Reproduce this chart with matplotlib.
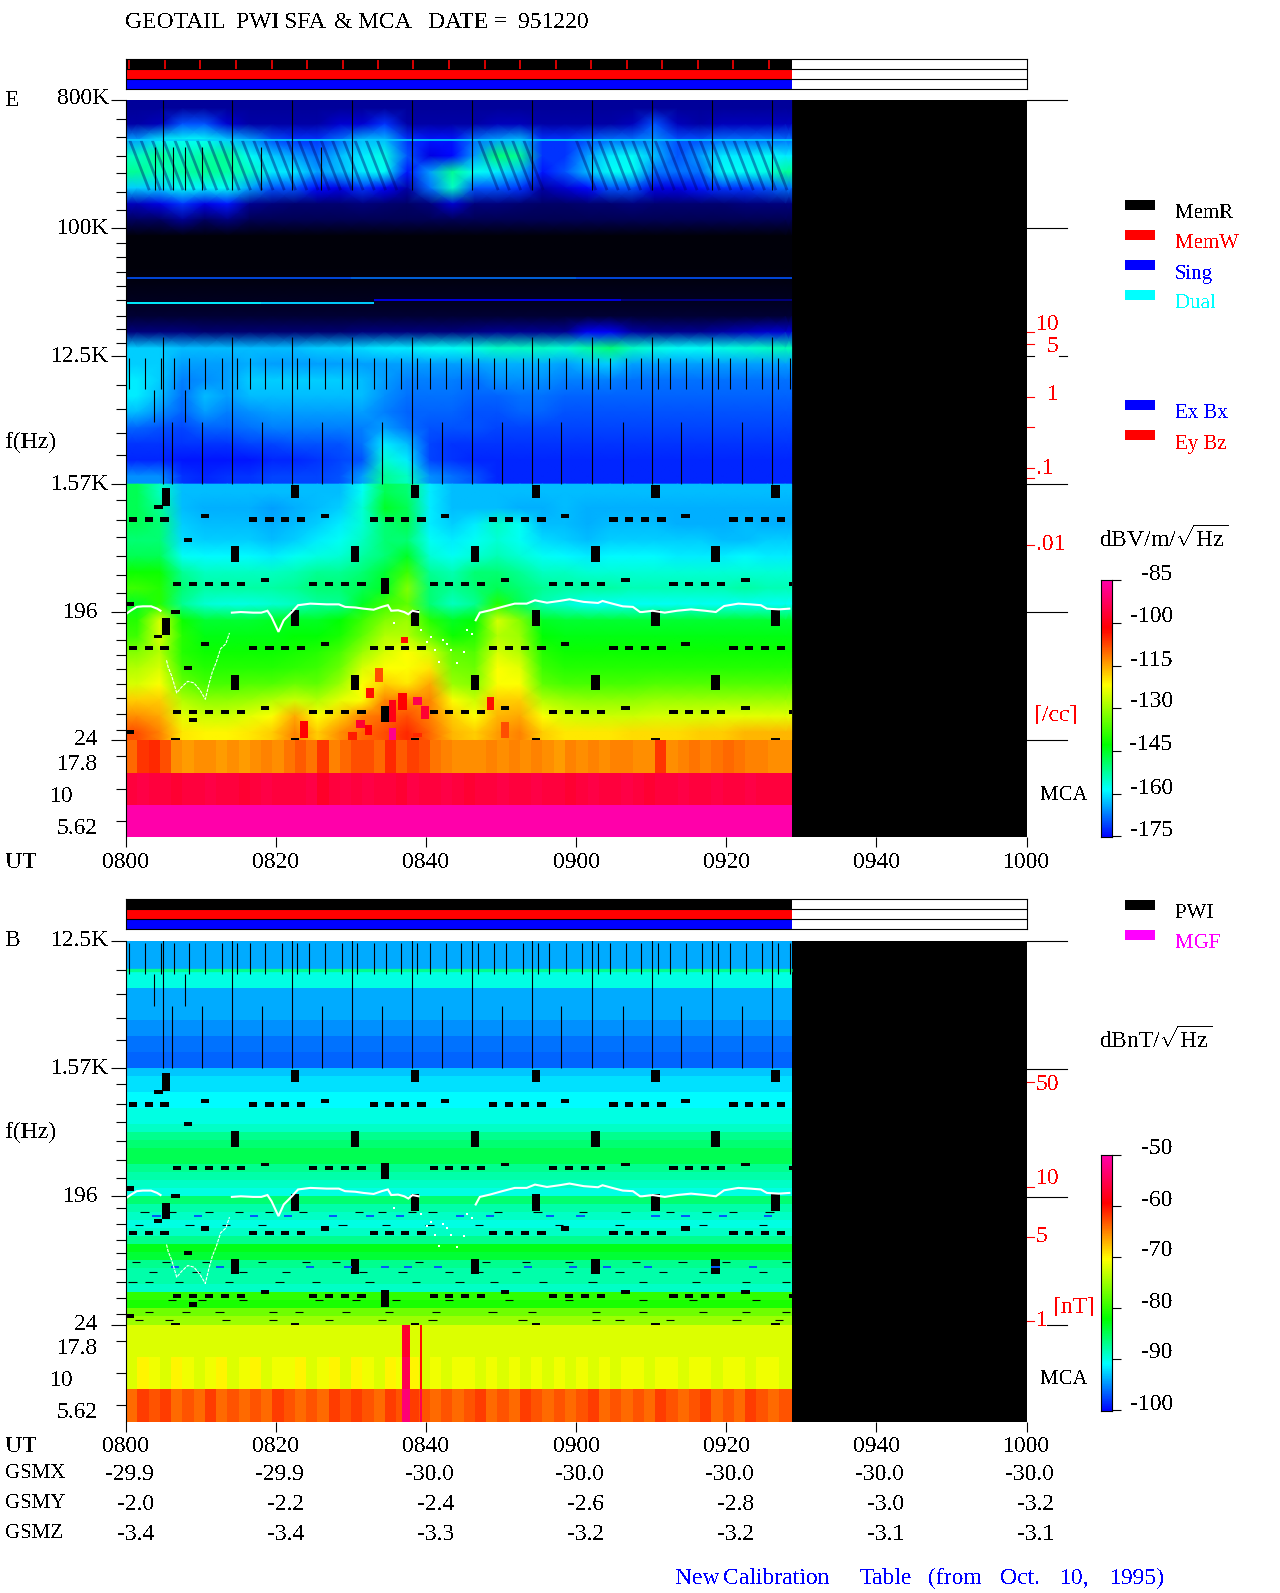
import numpy as np
import matplotlib.pyplot as plt
from matplotlib.colors import LinearSegmentedColormap, Normalize
from matplotlib.lines import Line2D
from matplotlib.patches import Rectangle
from matplotlib.ticker import NullFormatter

plt.rcParams['font.family'] = ['Liberation Serif', 'DejaVu Serif']
plt.rcParams['font.size'] = 17
plt.rcParams['text.antialiased'] = False
plt.rcParams['mathtext.fontset'] = 'custom'
plt.rcParams['mathtext.rm'] = 'Liberation Serif'
plt.rcParams['mathtext.default'] = 'regular'

W, H = 1280, 1593
T_END = 88.7

# time bins of the tables, minutes after 0800
T_EDGES = [0, 3, 6, 9, 12, 15, 18, 21, 24, 27, 30, 33, 36, 39, 42, 45, 48, 51, 54, 57,
           60, 63, 66, 69, 72, 75, 78, 81, 84, 87, T_END]
T_FINE = list(np.arange(0, 88, 1.5)) + [T_END]

MAJOR_F = [800e3, 100e3, 12.5e3, 1562.5, 195.3, 24.41]
MINOR_F = [587e3, 436e3, 322e3, 245e3, 180e3, 135e3, 78.8e3, 62e3, 49e3, 39e3, 31e3, 23.9e3,
           19.3e3, 15.4e3, 7.8e3, 5.26e3, 3.56e3, 2.5e3, 1205, 880, 658, 485, 356, 265,
           163, 125, 97, 78, 60.6, 48.9, 37.7, 29]

# E field, 800K to 1.57K, dB, top row first
E_HIGH = [
    [-185] * 30,
    [-184, -182, -170, -170, -180, -184, -184, -184, -184, -180, -180, -172, -184, -184, -184, -184, -182, -182, -184, -184, -184, -184, -182, -170, -182, -184, -182, -182, -182, -182],
    [-165, -160, -158, -158, -162, -165, -170, -172, -172, -168, -163, -163, -172, -174, -174, -168, -165, -163, -172, -172, -170, -168, -168, -166, -170, -170, -168, -168, -168, -168],
    [-155, -152, -155, -153, -152, -158, -162, -165, -168, -163, -160, -157, -170, -178, -175, -165, -150, -152, -172, -172, -165, -160, -158, -163, -170, -165, -160, -160, -158, -160],
    [-152, -155, -153, -152, -153, -155, -160, -160, -165, -163, -160, -158, -174, -165, -152, -158, -160, -163, -174, -170, -163, -158, -158, -168, -168, -168, -158, -158, -157, -152],
    [-162, -162, -158, -160, -158, -165, -170, -170, -175, -178, -172, -176, -184, -168, -155, -170, -170, -172, -184, -180, -175, -170, -170, -178, -178, -174, -172, -172, -170, -168],
    [-182, -178, -172, -178, -174, -186, -188, -189, -189, -189, -188, -189, -190, -188, -180, -188, -188, -189, -190, -190, -189, -189, -188, -189, -189, -189, -189, -188, -188, -188],
    [-191, -191, -186, -191, -188, -192, -192, -192, -192, -192, -192, -192, -192, -192, -192, -192, -192, -192, -192, -192, -192, -192, -192, -192, -192, -192, -192, -192, -192, -192],
    [-199] * 30,
    [-199] * 30,
    [-199] * 30,
    [-198] * 30,
    [-197] * 30,
    [-195] * 30,
    [-188, -188, -188, -189, -189, -189, -189, -189, -189, -189, -188, -188, -188, -188, -188, -187, -186, -186, -186, -186, -176, -176, -184, -186, -186, -186, -184, -182, -180, -180],
    [-162, -162, -163, -163, -163, -163, -163, -163, -162, -162, -161, -160, -160, -158, -158, -157, -155, -155, -155, -156, -153, -150, -155, -157, -158, -158, -157, -156, -155, -154],
    [-162, -162, -165, -165, -165, -164, -165, -165, -165, -165, -165, -165, -165, -165, -165, -165, -164, -164, -164, -165, -163, -162, -165, -165, -165, -165, -165, -165, -165, -165],
    [-160, -162, -167, -166, -165, -162, -162, -162, -162, -162, -163, -165, -167, -167, -167, -168, -166, -166, -166, -167, -167, -167, -168, -168, -168, -168, -168, -168, -168, -168],
    [-160, -163, -168, -163, -165, -163, -163, -163, -163, -163, -163, -166, -168, -168, -168, -169, -169, -168, -168, -169, -169, -169, -169, -169, -169, -169, -169, -169, -169, -169],
    [-163, -166, -169, -165, -167, -166, -165, -165, -165, -165, -165, -167, -169, -169, -169, -170, -170, -169, -169, -170, -170, -170, -170, -170, -170, -170, -170, -170, -170, -170],
    [-169, -170, -171, -169, -169, -168, -167, -167, -167, -167, -167, -165, -168, -170, -170, -170, -171, -171, -171, -171, -171, -171, -171, -171, -171, -171, -171, -171, -171, -171],
    [-172, -172, -172, -172, -172, -171, -171, -170, -170, -170, -168, -160, -163, -171, -172, -172, -172, -172, -172, -172, -172, -172, -172, -172, -172, -172, -172, -172, -172, -172],
    [-173, -173, -174, -174, -174, -174, -173, -173, -172, -171, -170, -156, -160, -171, -172, -173, -173, -173, -173, -173, -173, -173, -173, -173, -173, -173, -173, -173, -173, -173],
    [-166, -166, -172, -173, -172, -172, -171, -171, -171, -170, -165, -152, -155, -166, -168, -170, -173, -173, -173, -173, -173, -173, -173, -173, -173, -173, -173, -173, -173, -173],
]

# E field, 1.57K to 24
E_LOW = [
    [-148, -155, -163, -163, -163, -163, -163, -163, -163, -163, -158, -148, -150, -160, -163, -163, -163, -163, -163, -163, -163, -163, -163, -163, -163, -163, -163, -163, -163, -163],
    [-148, -152, -163, -164, -164, -164, -165, -164, -163, -162, -156, -145, -148, -160, -163, -163, -163, -164, -164, -163, -164, -164, -164, -164, -164, -164, -164, -164, -164, -164],
    [-148, -150, -162, -163, -163, -163, -164, -163, -162, -160, -156, -150, -148, -160, -162, -160, -155, -158, -163, -163, -164, -163, -163, -163, -164, -164, -164, -163, -164, -164],
    [-150, -150, -161, -162, -162, -162, -163, -162, -160, -158, -155, -150, -150, -158, -160, -158, -156, -158, -161, -162, -163, -162, -162, -162, -162, -162, -163, -163, -162, -162],
    [-148, -148, -158, -159, -159, -159, -160, -158, -157, -156, -153, -150, -145, -156, -158, -156, -154, -156, -158, -159, -160, -159, -159, -159, -160, -160, -160, -159, -160, -160],
    [-142, -142, -152, -155, -155, -155, -155, -154, -152, -152, -150, -146, -138, -152, -154, -150, -150, -152, -155, -155, -156, -156, -156, -156, -156, -156, -156, -156, -156, -156],
    [-138, -140, -150, -153, -153, -153, -153, -152, -150, -150, -148, -145, -132, -150, -152, -150, -148, -150, -152, -153, -153, -153, -154, -154, -154, -154, -154, -153, -154, -154],
    [-145, -140, -152, -156, -157, -157, -156, -155, -153, -152, -145, -138, -135, -150, -155, -152, -140, -148, -154, -156, -158, -158, -158, -158, -158, -158, -158, -158, -158, -158],
    [-140, -125, -142, -146, -146, -146, -145, -145, -145, -143, -138, -132, -130, -140, -145, -143, -125, -132, -145, -146, -146, -146, -146, -146, -146, -146, -146, -146, -146, -146],
    [-138, -125, -140, -144, -144, -144, -144, -143, -143, -141, -135, -128, -128, -135, -142, -140, -128, -130, -143, -144, -144, -144, -144, -144, -144, -144, -144, -144, -144, -144],
    [-132, -128, -140, -142, -142, -142, -142, -141, -140, -137, -130, -125, -122, -125, -135, -136, -125, -128, -140, -142, -142, -142, -142, -142, -142, -142, -142, -142, -142, -142],
    [-128, -125, -138, -140, -140, -140, -140, -139, -138, -134, -125, -122, -122, -120, -133, -134, -122, -124, -138, -140, -140, -140, -140, -140, -140, -140, -140, -140, -140, -140],
    [-125, -122, -134, -137, -137, -136, -136, -134, -135, -130, -122, -118, -120, -115, -130, -132, -122, -122, -135, -137, -137, -137, -137, -136, -136, -136, -136, -136, -136, -136],
    [-118, -118, -128, -131, -131, -130, -128, -126, -128, -124, -122, -112, -112, -112, -122, -126, -118, -118, -128, -130, -131, -131, -131, -130, -130, -130, -130, -130, -130, -130],
    [-113, -115, -124, -126, -126, -124, -122, -115, -122, -118, -112, -110, -108, -112, -118, -122, -116, -115, -122, -125, -126, -126, -126, -125, -125, -125, -124, -124, -124, -124],
    [-108, -112, -120, -121, -121, -120, -118, -112, -118, -113, -110, -108, -105, -110, -116, -118, -114, -112, -118, -120, -120, -120, -119, -119, -119, -118, -118, -116, -116, -116],
]

# red patches in the low E band: start, end, upper Hz, lower Hz, dB
HOT_T0 = [23.2, 29.6, 30.7, 31.8, 32.0, 33.2, 35.0, 35.0, 36.3, 38.3, 39.3, 36.7, 48.1, 50.0, 38.3]
HOT_T1 = [24.2, 30.8, 31.8, 32.8, 33.0, 34.3, 36.0, 36.0, 37.4, 39.4, 40.4, 37.6, 49.0, 51.0, 39.4]
HOT_FH = [33.3, 27.8, 33.8, 31.1, 56.8, 78.6, 46.8, 29.6, 52.4, 49.1, 42.5, 130, 49.1, 32.7, 27.4]
HOT_FL = [25.2, 24.4, 29.6, 26.5, 48.3, 62.6, 32.7, 24.4, 39.8, 43.1, 34.4, 118, 39.8, 25.2, 25.7]
HOT_DB = [-102, -104, -97, -102, -103, -108, -100, -88, -102, -94, -97, -103, -103, -108, -105]

# MCA bands at 1.5 minute steps
E_MCA_TOP = [-110, -106, -105, -108, -113, -114, -113, -113, -114, -113, -114, -113, -112, -113, -111, -109, -111, -106, -112, -110,
             -108, -108, -110, -105, -109, -107, -108, -111, -112, -113, -113, -113, -112, -113, -112, -113, -112, -113, -114, -112,
             -113, -112, -113, -112, -112, -113, -113, -106, -113, -112, -111, -112, -111, -110, -111, -112, -112, -113, -113]
E_MCA_MID = [-96, -95, -96, -96, -97, -96, -96, -95, -96, -96, -97, -96, -95, -96, -96, -96, -95, -98, -96, -95,
             -96, -95, -96, -96, -97, -95, -96, -96, -95, -96, -97, -96, -96, -95, -96, -96, -95, -96, -96, -97,
             -96, -95, -96, -96, -95, -96, -97, -96, -96, -95, -96, -96, -95, -96, -96, -95, -96, -96, -96]
E_MCA_LOW = [-85] * 30

# B field, dB; the top part hardly changes with time
B_HIGH = [-94, -94, -90, -94, -94, -95, -96, -96.5]
B_LOW = [-93, -92, -92, -91, -91, -90, -90, -89, -87, -86, -85, -85, -87, -88, -89, -90,
         -86, -88, -89, -90, -89, -87, -83, -84, -87, -88, -88, -89, -80, -81, -77, -75]
B_MCA_TOP = [-72] * 30
B_MCA_MID = [-72, -70, -71, -72, -70, -71, -72, -71, -70, -72, -71, -70, -72, -71, -71, -70, -72, -71, -70, -72,
             -70, -71, -72, -70, -71, -70, -72, -71, -72, -71, -71, -72, -71, -72, -71, -72, -71, -72, -71, -72,
             -71, -72, -71, -72, -71, -71, -72, -71, -71, -72, -71, -71, -72, -71, -71, -72, -71, -71, -72]
B_MCA_LOW = [-64, -62, -63, -62, -64, -63, -64, -62, -64, -63, -64, -63, -64, -62, -63, -64, -63, -64, -62, -63,
             -62, -63, -64, -62, -63, -62, -63, -64, -63, -64, -63, -62, -64, -63, -64, -62, -63, -64, -63, -64,
             -63, -62, -64, -63, -64, -63, -64, -62, -63, -64, -63, -62, -64, -63, -64, -62, -63, -64, -63]
B_SPIKE_T0 = [36.8, 39.15]
B_SPIKE_T1 = [37.8, 39.45]
B_SPIKE_DB = [[-57, -60], [-55, -60], [-53, -55]]

# thin streaks in the low B band, Hz and start minute
STREAK_F = [151.7, 122.9, 67.4, 57.3, 48.7, 36.4, 29.9, 26.3]
STREAK_T = [
    [1.9, 5.6, 10.5, 14.5, 18.5, 23, 30.5, 33.6, 37.6, 40.3, 49, 54.3, 60.3, 66, 71.9, 76.8, 80.3, 85.2],
    [1.2, 7.9, 12.8, 17.6, 28.3, 34.1, 39.9, 46.5, 57.2, 65.2, 76.3, 84.3],
    [.8, 4.8, 10.1, 17.6, 23.4, 27.4, 38.5, 47.4, 52.8, 58.5, 67.4, 73.6, 79.4, 87.4],
    [3, 8.8, 15, 20.8, 31, 36.3, 42.5, 46.5, 51.4, 58.5, 65.2, 71, 76.3, 84.3],
    [.3, 2.5, 6.5, 13.2, 19.9, 24.8, 31.9, 38.1, 43.9, 48.5, 55, 61.6, 68.3, 75.4, 82.1, 87.4],
    [5.6, 9.6, 15, 25.2, 30.1, 35.4, 42.5, 50.5, 58.5, 68.3, 75, 83.4],
    [2.5, 7.4, 11.9, 19, 22.5, 28.8, 34.5, 40.8, 48.3, 53.6, 62.1, 68.3, 76.3, 82.1, 87.4],
    [1.2, 5.2, 12.8, 19, 26.5, 33.6, 40.3, 52.3, 62.1, 65.2, 71.9, 80.8, 86.5],
]
BLUE_F = [142, 62]
BLUE_T = [
    [3.5, 9, 16.5, 21, 27, 32, 36, 44, 48, 56, 60, 70, 74, 79, 85],
    [6, 12, 24, 29, 34, 37, 41, 53, 59, 63.5, 69, 78, 83],
]

# plasma line, minutes and Hz
PF1_T = [.07, .6, 1.43, 2.25, 3.34, 4.15, 4.6]
PF1_F = [191, 200, 213, 215, 215, 207, 200]
PF2_T = [5.4, 5.62, 6.06, 6.33, 6.76, 7.42, 8.23, 9.05, 9.87, 10.57, 11.06, 11.5, 12.04, 12.6, 13.3, 13.79]
PF2_F = [89.5, 80, 70, 63, 52.6, 58, 63.6, 62, 55, 47.5, 61, 74, 87, 108, 117, 139.5]
PF3_T = [14.11, 15.3, 16.94, 18.03, 18.85, 19.39, 20.32, 21.02, 22.11, 22.93, 24.56, 26.74, 28.37, 29.19, 30.55, 31.64, 33, 34.08, 34.9, 35.34, 36.26, 37.08, 37.62, 38.17, 38.98]
PF3_F = [194, 196, 194, 194, 200, 181, 142, 171.5, 196, 219, 224.6, 222, 222, 213, 211, 207, 203.5, 213, 219, 200, 201.5, 196, 189, 200, 196]
PF4_T = [35.7, 39.25, 40.07, 40.6, 41.2, 41.7, 42.25, 42.8, 43.3, 44.15, 45, 45.5, 46.06]
PF4_F = [163, 146, 120, 130, 105, 87, 124, 117, 105, 86, 102, 146, 138]
PF5_T = [46.6, 47.15, 48.5, 50.14, 51.8, 53.4, 54.5, 56.1, 57.76, 59.1, 61, 62.9, 63.5, 64.8, 66.2, 67.55, 68.5, 68.8, 70.2, 71.8, 73.4, 75.3, 77.2, 78.6, 79.7, 81.6, 83.2, 84.6, 85.4, 87, 88.4]
PF5_F = [171.5, 194, 201.5, 213, 224.6, 224.6, 237, 228, 234.5, 241, 231, 227, 234.5, 224.6, 215, 213, 196, 196, 200, 194, 200, 204.6, 200, 196, 216, 224.6, 222, 219, 207, 204.6, 207]

# black data gaps, start minute
GAP_WIDTH = 1.1
DASH_A_T = [.34, 2.52, 4.59, 16.4, 18.57, 20.64, 22.82, 32.45, 34.57, 36.64, 38.82, 48.4, 50.52, 52.64, 54.82, 64.4, 66.52, 68.64, 70.8, 80.4, 82.5, 84.64, 86.76]
DASH_B_T = [6.27, 8.4, 10.52, 12.64, 14.76, 24.4, 26.52, 28.64, 30.82, 40.45, 42.52, 44.64, 46.77, 56.4, 58.52, 60.64, 62.76, 72.4, 74.5, 76.64, 78.76, 88.4]
TALL_A_T = [22.0, 38.0, 54.05, 70.0, 86.0]
TALL_B_T = [14.0, 30.0, 46.0, 62.0, 78.0]
SOLO_A_T = [10, 26, 42, 58, 74]
SOLO_B_T = [18, 50, 66, 82]

# black vertical marks and the top status row ticks
MARK_SHORT_T = [.45, 2.52, 4.7, 6.33, 8.4, 10.57, 12.75, 14.76, 16.5, 18.57, 20.75, 22.76, 24.4, 26.57, 28.75, 30.82, 33, 34.63, 36.7, 38.82, 40.45, 42.63, 44.7, 46.87, 49.05, 50.68, 52.86, 54.87, 56.4, 58.57, 60.75, 62.93, 64.56, 66.63, 68.64, 70.87, 72.45, 74.57, 76.7, 78.87, 80.45, 82.57, 84.7, 86.87, 88.45]
MARK_LONG_T = [4.97, 14.1, 22.1, 30.1, 38.06, 46.06, 54.06, 62.1, 70.05, 78.05, 86.05]
MARK_TIER_T = [6.17, 10.14, 18.14, 26.1, 34.1, 42.1, 50.15, 58.03, 66.2, 74, 82.1]
MARK_MID_T = [3.77, 7.8]
MARK_EMIS_T = [3.8, 6.2, 7.8, 10.1, 18, 26]
STATUS_T = [.45, 5.24, 9.92, 14.66, 19.39, 24.1, 28.86, 33.6, 38.3, 43, 47.8, 52.5, 57.27, 61.95, 66.7, 71.4, 76.2, 80.9, 85.67]
STRIPE_T = [.5, 2, 3.5, 5, 6.5, 8, 9.5, 11, 12.5, 14, 15.5, 17, 18.5, 20, 21.5, 23, 24.5, 26, 27.5, 29, 30.5, 32, 33.5,
            47, 48.5, 50, 51.5, 53, 60, 61.5, 63, 64.5, 66, 67.5, 69, 70.5, 72, 73.5, 75, 76.5, 78, 79.5, 81, 82.5, 84, 85.5]

UT_LABELS = ['0800', '0820', '0840', '0900', '0920', '0940', '1000']
UT_MIN = [0, 20, 40, 60, 80, 100, 120]
GSMX = ['-29.9', '-29.9', '-30.0', '-30.0', '-30.0', '-30.0', '-30.0']
GSMY = ['-2.0', '-2.2', '-2.4', '-2.6', '-2.8', '-3.0', '-3.2']
GSMZ = ['-3.4', '-3.4', '-3.3', '-3.2', '-3.2', '-3.1', '-3.1']
E_CBAR = [-85, -100, -115, -130, -145, -160, -175]
B_CBAR = [-50, -60, -70, -80, -90, -100]

fig = plt.figure(figsize=(W / 100, H / 100), dpi=100, facecolor='white')


def px_axes(x0, y0, x1, y1):
    return fig.add_axes([x0 / W, 1 - y1 / H, (x1 - x0) / W, (y1 - y0) / H])


def put(x, y, s, ha='left', color='k', size=None):
    fig.text(x / W, 1 - (y + 2) / H, s, ha=ha, va='center', color=color, size=size)


def hline(x0, x1, y, color='k', lw=.8):
    fig.add_artist(Line2D([x0 / W, x1 / W], [1 - y / H, 1 - y / H], color=color, lw=lw))


def swatch(x0, y0, x1, y1, color):
    fig.add_artist(Rectangle((x0 / W, 1 - y1 / H), (x1 - x0) / W, (y1 - y0) / H, color=color, lw=0))


def make_cmap(vmin, vmax, vlow):
    # vlow is where blue starts, below it the colours fade to black
    s = (vlow - vmin) / (vmax - vmin)
    stops = [(.184, (0, 1, 1)), (.36, (0, 1, 0)), (.594, (1, 1, 0)), (.813, (1, 0, 0)), (1, (1, 0, 2 / 3))]
    colors = [(s + p * (1 - s), c) for p, c in stops]
    colors = [(s, (0, 0, 1))] + colors
    if s > 0:
        colors = [(0, (0, 0, 0))] + colors
    return LinearSegmentedColormap.from_list('pwi', colors, N=512)


def smooth_mesh(ax, t_edges, f_edges, table, cmap, norm):
    # table cells sit at their centres, the outer edge repeats the outer cell
    t_edges = np.asarray(t_edges, float)
    f_edges = np.asarray(f_edges, float)
    t = np.r_[t_edges[0], (t_edges[:-1] + t_edges[1:]) / 2, t_edges[-1]]
    f = np.r_[f_edges[0], np.sqrt(f_edges[:-1] * f_edges[1:]), f_edges[-1]]
    z = np.asarray(table, float)
    z = np.c_[z[:, 0], z, z[:, -1]]
    z = np.r_[z[:1], z, z[-1:]]
    ax.pcolormesh(t, f, z, cmap=cmap, norm=norm, shading='gouraud')


def spec_axes(y0, y1, top):
    ax = px_axes(126, y0, 1026.5, y1)
    ax.set_facecolor('k')
    ax.set_xlim(0, 120)
    ax.set_yscale('log')
    ax.set_ylim(24.41, top)
    ax.set_xticks([])
    ax.set_yticks([f for f in MAJOR_F if f <= top])
    ax.set_yticks([f for f in MINOR_F if f < top], minor=True)
    ax.yaxis.set_major_formatter(NullFormatter())
    ax.yaxis.set_minor_formatter(NullFormatter())
    ax.tick_params(axis='y', which='major', length=10.8, width=.8)
    ax.tick_params(axis='y', which='minor', length=7.2, width=.8)
    for side in ['top', 'right', 'bottom']:
        ax.spines[side].set_visible(False)
    ax.spines['left'].set_linewidth(.8)
    return ax


def draw_marks(ax):
    ax.vlines(MARK_LONG_T, 1562.5, 17e3, color='k', lw=.8)
    ax.vlines(MARK_LONG_T, 185e3, 800e3, color='k', lw=.8)
    ax.vlines(MARK_SHORT_T, 7.3e3, 12.1e3, color='k', lw=.8)
    ax.vlines(MARK_TIER_T, 1562.5, 4.3e3, color='k', lw=.8)
    ax.vlines(MARK_MID_T, 4.3e3, 7.2e3, color='k', lw=.8)


def draw_gaps(ax):
    rows = [
        (TALL_A_T, 1536, 1245), ([4.8], 1464, 1092), (DASH_A_T, 914, 842), (TALL_B_T, 570, 440),
        (DASH_B_T, 318, 298), ([34.0], 339, 261), (TALL_A_T, 202, 155), ([4.8], 177, 136),
        (DASH_A_T, 112, 105), (TALL_B_T, 71, 55), (DASH_B_T, 39.8, 37.3), ([34.0], 42.5, 32.7),
        ([6.05, 22.0, 38.0, 54.05, 70.0, 86.0], 25.2, 24.41), ([3.77], 1110, 1040), (SOLO_A_T, 959, 898),
        ([7.7], 650, 609), (SOLO_B_T, 339, 318), ([3.7], 136, 128), ([6.05], 202, 190),
        ([10, 26, 58, 74], 120, 112), ([7.7], 81, 76), (SOLO_B_T, 42.5, 39.8), ([8.4], 35, 32.7),
        ([0], 29, 27), ([0], 230, 215),
    ]
    for times, fh, fl in rows:
        ax.broken_barh([(t, min(GAP_WIDTH, T_END - t)) for t in times], (fl, fh - fl), facecolors='k', lw=0)


def draw_plasma(ax):
    for t, f in [(PF1_T, PF1_F), (PF3_T, PF3_F), (PF5_T, PF5_F)]:
        ax.plot(t, f, color='w', lw=1.5, solid_joinstyle='miter')
    ax.plot(PF2_T, PF2_F, color='w', lw=.8, ls=(0, (3, 1)))
    ax.plot(PF4_T, PF4_F, ls='none', marker='s', ms=1.6, mew=0, color='w')


def mca_axes(y0, y1, rows, cmap, norm):
    ax = px_axes(126, y0, 1026.5, y1)
    ax.set_facecolor('k')
    ax.set_xlim(0, 120)
    ax.set_ylim(0, 3)
    for i, row in enumerate(rows):
        edges = T_FINE if len(row) == 59 else T_EDGES
        ax.pcolormesh(edges, [3 - i, 2 - i], [row], cmap=cmap, norm=norm, shading='flat')
    ax.set_xticks(UT_MIN)
    ax.set_xticklabels([])
    ax.set_yticks([.5, 1.5, 2.5])
    ax.set_yticklabels([])
    ax.tick_params(axis='x', length=7.2, width=.8)
    ax.tick_params(axis='y', length=7.2, width=.8)
    for side in ['top', 'right', 'bottom']:
        ax.spines[side].set_visible(False)
    ax.spines['left'].set_linewidth(.8)
    return ax


def status_bar(y0, y1, row_colors):
    ax = px_axes(125.5, y0, 1026.5, y1)
    ax.set_xlim(-.07, 120)
    ax.set_ylim(0, 3)
    for i, c in enumerate(row_colors):
        ax.broken_barh([(-.07, T_END + .07)], (2 - i, 1), facecolors=c, lw=0)
    ax.hlines([1, 2], -.07, 120, color='k', lw=.8)
    ax.set_xticks([])
    ax.set_yticks([])
    for s in ax.spines.values():
        s.set_linewidth(.8)
    return ax


def color_bar(y0, y1, vlow, vmax, ticks, cmap, norm):
    cax = px_axes(1100.5, y0, 1111.5, y1)
    levels = np.linspace(vlow, vmax, 257)
    cax.pcolormesh([0, 1], levels, ((levels[:-1] + levels[1:]) / 2).reshape(-1, 1), cmap=cmap, norm=norm, shading='flat')
    cax.set_ylim(vlow, vmax)
    cax.set_xticks([])
    cax.yaxis.tick_right()
    cax.set_yticks(ticks)
    cax.set_yticklabels([])
    cax.tick_params(axis='y', length=6.8, width=.8)
    for s in cax.spines.values():
        s.set_linewidth(.8)


# E panel
E_NORM = Normalize(-200, -85)
E_CMAP = make_cmap(-200, -85, -175.4)
status = status_bar(59, 89.3, ['k', 'r', 'b'])
status.vlines(STATUS_T, 2.05, 3, color='r', lw=1.2)

ax_e = spec_axes(100, 740.3, 800e3)
smooth_mesh(ax_e, T_EDGES, np.geomspace(800e3, 1562.5, 25), E_HIGH, E_CMAP, E_NORM)
smooth_mesh(ax_e, T_EDGES, np.geomspace(1562.5, 24.41, 17), E_LOW, E_CMAP, E_NORM)
for t in STRIPE_T:
    ax_e.plot([t, t + 2.6], [417e3, 185e3], color=(0, 0, .4), lw=2, alpha=.4, solid_capstyle='butt')
ax_e.hlines(417.6e3, 0, T_END, color=E_CMAP(E_NORM(-162)), lw=1.2)
ax_e.hlines([44.4e3, 44.4e3, 44.4e3], [0, 30, 60], [30, 60, T_END], color=E_CMAP(E_NORM(np.array([-170, -168, -170]))), lw=1.2)
ax_e.hlines([29.6e3, 29.6e3, 31e3, 31e3], [0, 18, 33, 66], [18, 33, 66, T_END],
            color=E_CMAP(E_NORM(np.array([-160, -162, -178, -188]))), lw=1.4)
for t0, t1, fh, fl, db in zip(HOT_T0, HOT_T1, HOT_FH, HOT_FL, HOT_DB):
    ax_e.broken_barh([(t0, t1 - t0)], (fl, fh - fl), facecolors=[E_CMAP(E_NORM(db))], lw=0)
draw_marks(ax_e)
ax_e.vlines(MARK_EMIS_T, 185e3, 370e3, color='k', lw=.8)
draw_gaps(ax_e)
draw_plasma(ax_e)

mca_axes(740.3, 837.3, [E_MCA_TOP, E_MCA_MID, E_MCA_LOW], E_CMAP, E_NORM)
color_bar(580.3, 837.3, -175.4, -85, E_CBAR, E_CMAP, E_NORM)

# B panel
B_NORM = Normalize(-100.2, -50)
B_CMAP = make_cmap(-100.2, -50, -100.2)
status_bar(899.3, 929.3, ['k', 'r', 'b'])

ax_b = spec_axes(940.5, 1324.5, 12.5e3)
ax_b.pcolormesh([0, T_END], np.geomspace(12.5e3, 1562.5, 9), np.array(B_HIGH).reshape(-1, 1), cmap=B_CMAP, norm=B_NORM, shading='flat')
ax_b.pcolormesh([0, T_END], np.geomspace(1562.5, 24.41, 33), np.array(B_LOW).reshape(-1, 1), cmap=B_CMAP, norm=B_NORM, shading='flat')
ax_b.hlines(7.7e3, 0, T_END, color=B_CMAP(B_NORM(-87)), lw=2.4)
for f, times in zip(BLUE_F, BLUE_T):
    ax_b.hlines([f] * len(times), times, np.array(times) + 1.1, color=B_CMAP(B_NORM(-97)), lw=1.4)
for f, times in zip(STREAK_F, STREAK_T):
    ax_b.hlines([f] * len(times), times, np.array(times) + 1.1, color='k', lw=.8)
draw_marks(ax_b)
draw_gaps(ax_b)
draw_plasma(ax_b)

mca_b = mca_axes(1324.5, 1421.5, [B_MCA_TOP, B_MCA_MID, B_MCA_LOW], B_CMAP, B_NORM)
for i, dbs in enumerate(B_SPIKE_DB):
    for t0, t1, db in zip(B_SPIKE_T0, B_SPIKE_T1, dbs):
        mca_b.broken_barh([(t0, t1 - t0)], (2 - i, 1), facecolors=[B_CMAP(B_NORM(db))], lw=0)
color_bar(1154.7, 1411.2, -100.2, -50, B_CBAR, B_CMAP, B_NORM)

# all the text
for x, word in [(125, 'GEOTAIL'), (236, 'PWI'), (284, 'SFA'), (334, '&'), (358, 'MCA'), (428, 'DATE'), (494, '='), (518, '951220')]:
    put(x, 20, word)
put(5, 98, 'E')
put(109, 97, '800K', 'right')
put(109, 226, '100K', 'right')
put(109, 355, '12.5K', 'right')
put(109, 483, '1.57K', 'right')
put(5, 440, 'f(Hz)')
put(98, 610, '196', 'right')
put(98, 738, '24', 'right')
put(98, 763, '17.8', 'right')
put(74, 794, '10', 'right')
put(98, 827, '5.62', 'right')
put(5, 860, 'UT')
put(5, 938, 'B')
put(109, 939, '12.5K', 'right')
put(109, 1067, '1.57K', 'right')
put(5, 1130, 'f(Hz)')
put(98, 1194, '196', 'right')
put(98, 1323, '24', 'right')
put(98, 1346, '17.8', 'right')
put(74, 1378, '10', 'right')
put(98, 1410, '5.62', 'right')
put(5, 1444, 'UT')
put(5, 1472, 'GSMX', size=15)
put(5, 1502, 'GSMY', size=15)
put(5, 1532, 'GSMZ', size=15)
for i, m in enumerate(UT_MIN):
    x = 126 + m * 7.504
    put(x, 860, UT_LABELS[i], 'center')
    put(x, 1444, UT_LABELS[i], 'center')
    put(x + 28, 1472, GSMX[i], 'right')
    put(x + 28, 1502, GSMY[i], 'right')
    put(x + 28, 1532, GSMZ[i], 'right')
for x, word in [(675, 'New'), (723, 'Calibration'), (860, 'Table'), (928, '(from'), (1000, 'Oct.'), (1060, '10,'), (1110, '1995)')]:
    put(x, 1576, word, color='b')

for lab, y in zip(E_CBAR, [572, 614, 658, 700, 742, 786, 828]):
    put(1173, y, str(lab), 'right')
for lab, y in zip(B_CBAR, [1146, 1198, 1248, 1301, 1350, 1402]):
    put(1173, y, str(lab), 'right')
put(1099, 537, r'dBV/m/$\sqrt{Hz}$')
put(1099, 1038, r'dBnT/$\sqrt{Hz}$')

for y, name, c in [(205, 'MemR', 'k'), (235, 'MemW', 'r'), (265, 'Sing', 'b'), (295, 'Dual', 'cyan'),
                   (405, 'Ex Bx', 'b'), (435, 'Ey Bz', 'r'), (905, 'PWI', 'k'), (935, 'MGF', 'magenta')]:
    swatch(1125, y - 5, 1155, y + 5, c)
    put(1175, y + 7, name, color=c, size=15)

# extended lines and the red density scale
for y in [100, 228.3, 484, 612.3, 740.3, 940.5, 1068.5, 1196.5]:
    hline(1026.5, 1066.5, y)
hline(1026.5, 1034, 356)
hline(1059, 1066.5, 356)
hline(1047, 1066.5, 1324.5)
for y in [332, 344, 397, 427, 468, 478, 545, 1082, 1187, 1237, 1321]:
    hline(1026.5, 1034, y, 'r')
for x, y, s in [(1036, 322, '10'), (1047, 345, '5'), (1047, 393, '1'), (1036, 467, '.1'), (1036, 543, '.01'),
                (1034, 713, '[/cc]'), (1036, 1082, '50'), (1036, 1177, '10'), (1036, 1235, '5'), (1036, 1318, '1'),
                (1053, 1305, '[nT]')]:
    put(x, y, s, color='r')
put(1040, 793, 'MCA', size=15)
put(1040, 1378, 'MCA', size=15)

fig.savefig('out.png', dpi=100, facecolor='white')
